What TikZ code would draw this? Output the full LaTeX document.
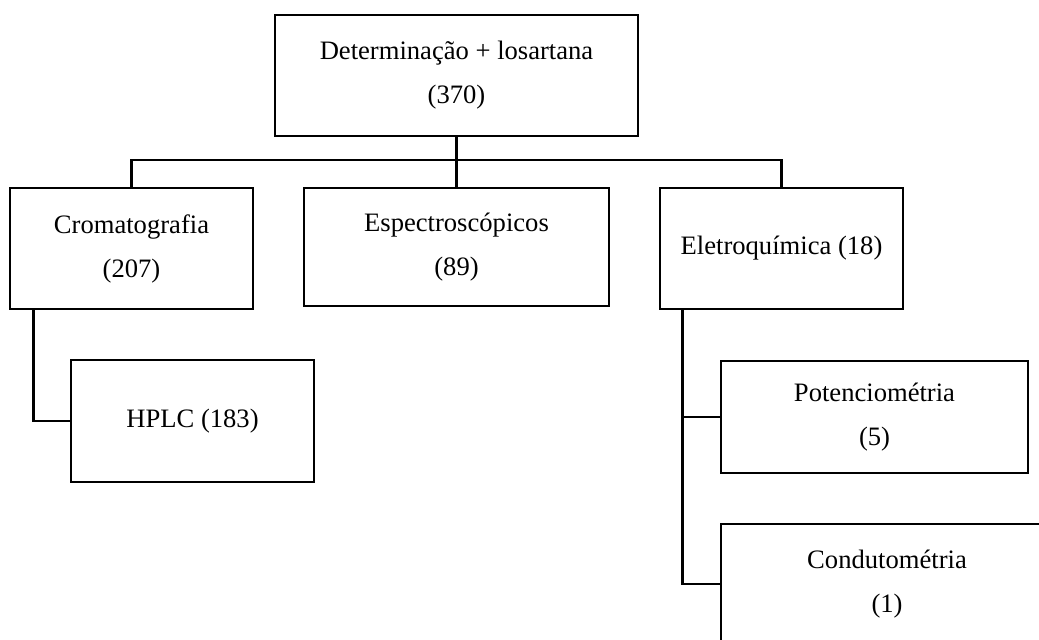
\documentclass[tikz,border=0pt]{standalone}
\usepackage{fontspec}
\setmainfont{Liberation Serif}
\usepackage{tikz}

\begin{document}
\begin{tikzpicture}[x=0.5pt, y=-0.5pt, line width=1.3pt,
  caixa/.style={draw, inner sep=0pt, align=center, font=\fontsize{13.3}{22}\selectfont}]
\clip (0,0) rectangle (1039,639);
\node[caixa, minimum width=181.5pt, minimum height=60.5pt] (topo) at (456.5,75.5)
  {Determinação + losartana\\(370)};
\node[caixa, minimum width=121.5pt, minimum height=60.5pt] (crom) at (131.5,248.5)
  {Cromatografia\\(207)};
\node[caixa, minimum width=152.5pt, minimum height=59pt] (espec) at (456.5,247)
  {Espectroscópicos\\(89)};
\node[caixa, minimum width=121.5pt, minimum height=60.5pt] (eletro) at (781.5,248.5)
  {Eletroquímica (18)};
\node[caixa, minimum width=121.5pt, minimum height=61pt] (hplc) at (192.5,421)
  {HPLC (183)};
\node[caixa, minimum width=153.5pt, minimum height=56pt] (poten) at (874.5,417)
  {Potenciométria\\(5)};
\node[caixa, minimum width=166pt, minimum height=60pt] (condu) at (887,584)
  {Condutométria\\(1)};
\coordinate (barra) at (456.5,160);
\draw (topo.south) -- (espec.north);
\draw (crom.north) |- (barra) -| (eletro.north);
\draw (crom.south west) ++(25,0) |- (hplc.west);
\draw (eletro.south west) ++(24,0) |- (poten.west);
\draw (eletro.south west) ++(24,0) |- (condu.west);
\end{tikzpicture}
\end{document}
